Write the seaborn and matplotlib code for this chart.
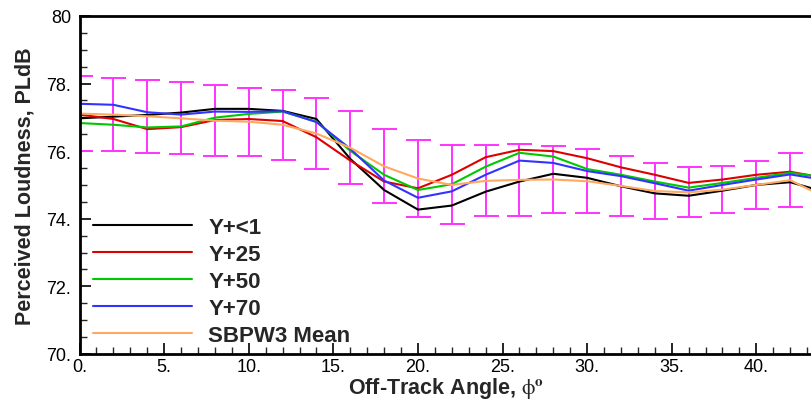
import numpy as np
import pandas as pd
import seaborn as sns
import matplotlib
matplotlib.use("Agg")
import matplotlib.pyplot as plt
from matplotlib.lines import Line2D
from matplotlib.ticker import MultipleLocator, FixedLocator

# off-track angles, every 2 degrees
angles = [0, 2, 4, 6, 8, 10, 12, 14, 16, 18, 20, 22, 24, 26, 28, 30, 32, 34, 36, 38, 40, 42, 44]

yplus_lt1 = [76.97, 77.02, 77.07, 77.14, 77.25, 77.25, 77.19, 76.95, 75.77, 74.85, 74.27, 74.39,
             74.80, 75.10, 75.33, 75.21, 74.96, 74.75, 74.68, 74.83, 75.00, 75.08, 74.80]
yplus_25 = [77.08, 76.95, 76.65, 76.71, 76.92, 76.95, 76.89, 76.41, 75.72, 75.10, 74.90, 75.30,
            75.82, 76.04, 76.00, 75.79, 75.52, 75.30, 75.06, 75.16, 75.30, 75.39, 75.21]
yplus_50 = [76.83, 76.78, 76.70, 76.73, 76.99, 77.10, 77.17, 76.87, 76.01, 75.30, 74.85, 75.02,
            75.54, 75.95, 75.84, 75.47, 75.30, 75.10, 74.92, 75.06, 75.21, 75.36, 75.23]
yplus_70 = [77.40, 77.37, 77.15, 77.08, 77.17, 77.16, 77.18, 76.86, 76.07, 75.13, 74.62, 74.81,
            75.30, 75.72, 75.65, 75.41, 75.26, 75.05, 74.83, 75.00, 75.16, 75.31, 75.15]
sbpw3_mean = [77.11, 77.08, 77.03, 76.97, 76.90, 76.87, 76.78, 76.52, 76.10, 75.55, 75.19, 75.00,
              75.12, 75.15, 75.16, 75.11, 74.97, 74.82, 74.78, 74.86, 75.00, 75.14, 74.65]
sbpw3_err = [1.11, 1.08, 1.08, 1.07, 1.05, 1.01, 1.04, 1.04, 1.08, 1.09, 1.15, 1.17,
             1.05, 1.07, 1.00, 0.95, 0.88, 0.82, 0.74, 0.69, 0.70, 0.79, 0.88]

series_names = ["Y+<1", "Y+25", "Y+50", "Y+70", "SBPW3 Mean"]
series_colors = ["#000000", "#dd0000", "#00c800", "#3333ff", "#ffa860"]

df = pd.DataFrame({
    "angle": angles * 5,
    "pldb": yplus_lt1 + yplus_25 + yplus_50 + yplus_70 + sbpw3_mean,
    "case": sum([[n] * len(angles) for n in series_names], []),
})

sns.set_style("ticks")
plt.rcParams["font.family"] = ["Liberation Sans", "DejaVu Sans"]
plt.rcParams["mathtext.fontset"] = "stix"

fig = plt.figure(figsize=(8.12, 4.02), dpi=100)
ax = fig.add_axes([0.098, 0.117, 0.902, 0.841])

ax.errorbar(angles, sbpw3_mean, yerr=sbpw3_err, fmt="none", ecolor="#ff33ff",
            elinewidth=1.4, capsize=9, capthick=1.4, zorder=1)

sns.lineplot(data=df, x="angle", y="pldb", hue="case", hue_order=series_names,
             palette=dict(zip(series_names, series_colors)), linewidth=1.5,
             legend=False, ax=ax, zorder=2)

ax.set_xlim(0, 43.29)
ax.set_ylim(70, 80)

ax.xaxis.set_major_locator(FixedLocator([0, 5, 10, 15, 20, 25, 30, 35, 40]))
ax.set_xticklabels(["0.", "5.", "10.", "15.", "20.", "25.", "30.", "35.", "40."])
ax.xaxis.set_minor_locator(MultipleLocator(1))
ax.yaxis.set_major_locator(FixedLocator([70, 72, 74, 76, 78, 80]))
ax.set_yticklabels(["70.", "72.", "74.", "76.", "78.", "80"])
ax.yaxis.set_minor_locator(MultipleLocator(0.5))

ax.tick_params(axis="both", which="major", direction="in", length=8, width=1.2,
               labelsize=13, colors="black")
ax.tick_params(axis="both", which="minor", direction="in", length=5, width=1.0)
ax.tick_params(axis="x", pad=3)
ax.tick_params(axis="y", pad=6)

for side in ["left", "bottom", "top"]:
    ax.spines[side].set_linewidth(2)
    ax.spines[side].set_color("black")
ax.spines["right"].set_visible(False)

ax.set_xlabel(r"Off-Track Angle, $\mathrm{\phi}^{\mathbf{o}}$", fontsize=15.5,
              fontweight="bold", labelpad=0)
ax.set_ylabel("Perceived Loudness, PLdB", fontsize=15.5, fontweight="bold", labelpad=8)

handles = [Line2D([0], [0], color=c, lw=1.5) for c in series_colors]
ax.legend(handles, series_names, loc="lower left", bbox_to_anchor=(0.018, 0.024),
          frameon=False, borderpad=0, borderaxespad=0, handlelength=4.45,
          handletextpad=0.75, labelspacing=0.27,
          prop={"size": 16, "weight": "bold"})

fig.savefig("out.png", dpi=100)
